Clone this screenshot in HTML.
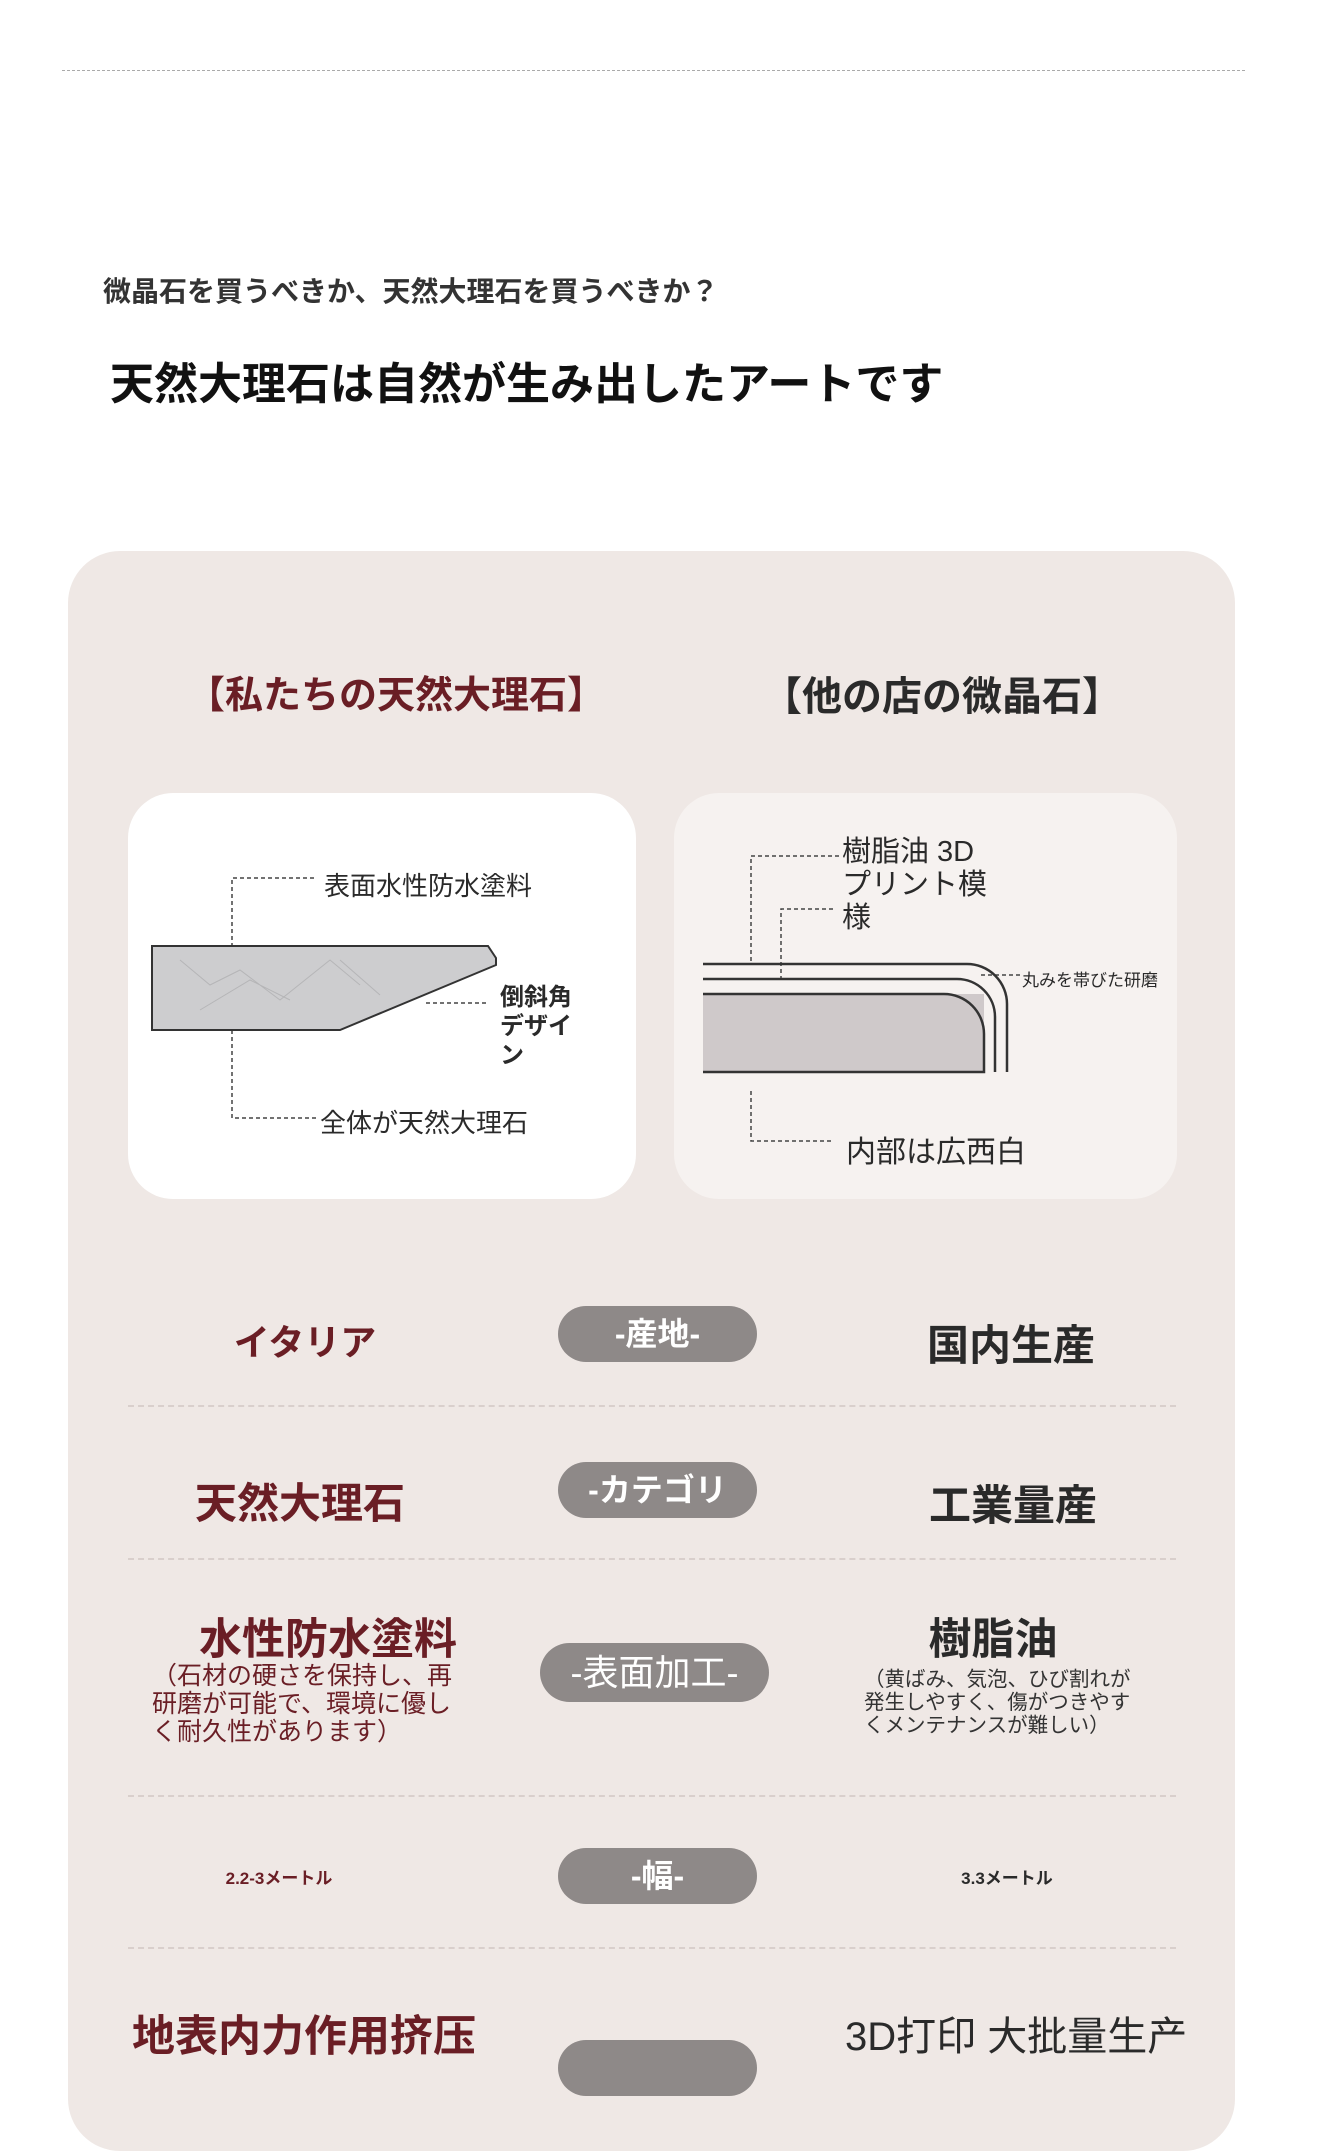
<!DOCTYPE html>
<html><head><meta charset="utf-8"><style>
*{margin:0;padding:0;box-sizing:border-box}
body{width:1322px;height:2048px;overflow:hidden;background:#fff;font-family:"Liberation Sans","Noto Sans CJK JP",sans-serif;position:relative}
.a{position:absolute;white-space:nowrap}
.red{color:#6a1e25}
.dk{color:#2a2a2a}
.pill{position:absolute;background:#8e8988;border-radius:30px;color:#fff;font-size:32px;text-align:center;font-weight:bold}
.hr{position:absolute;left:128px;width:1048px;border-top:2px dashed #d9cfcc}
.c{text-align:center;transform:translateX(-50%)}
</style></head><body>
<div class="a" style="left:62px;top:70px;width:1183px;border-top:1px dashed #aaa"></div>
<div class="a dk" style="left:103px;top:270px;font-size:28px;font-weight:bold;color:#333">微晶石を買うべきか、天然大理石を買うべきか？</div>
<div class="a" style="left:110px;top:348px;font-size:44px;font-weight:bold;color:#111">天然大理石は自然が生み出したアートです</div>

<div class="a" style="left:68px;top:551px;width:1167px;height:1600px;background:#efe8e5;border-radius:52px"></div>
<div class="a red c" style="left:396px;top:664px;font-size:38px;font-weight:bold">【私たちの天然大理石】</div>
<div class="a dk c" style="left:942px;top:664px;font-size:40px;font-weight:bold">【他の店の微晶石】</div>

<div class="a" style="left:128px;top:793px;width:508px;height:406px;background:#fff;border-radius:45px"></div>
<div class="a" style="left:674px;top:793px;width:503px;height:406px;background:#f6f2f0;border-radius:45px"></div>

<svg class="a" style="left:0;top:0" width="1322" height="1300">
<g fill="none" stroke="#444" stroke-width="1.5" stroke-dasharray="4,3">
<path d="M314 878H232V946M232 1030V1118H318M426 1003H488"/>
<path d="M839 856H751V964M833 909H781V979M981 975H1020M751 1091V1141H833"/>
</g>
<polygon points="152,946 488,946 496,958 496,965 340,1030 152,1030" fill="#cdcdcf" stroke="#333" stroke-width="2"/>
<path d="M180 960l30 25 30-15 40 30 50-40 30 25M200 1010l50-30 40 20M340 960l40 35" stroke="#b5b5b7" fill="none"/>
<rect x="703" y="994" width="281" height="78" fill="#cfc9ca"/>
<g fill="none" stroke="#333" stroke-width="2.5">
<path d="M703 964H967a40 40 0 0 1 40 40V1072"/>
<path d="M703 979H957a38 38 0 0 1 38 38V1072"/>
<path d="M703 994H944a40 40 0 0 1 40 40V1072H703"/>
</g>
</svg>
<div class="a dk" style="left:324px;top:866px;font-size:26px">表面水性防水塗料</div>
<div class="a dk" style="left:320px;top:1103px;font-size:26px">全体が天然大理石</div>
<div class="a dk" style="left:500px;top:983px;font-size:24px;font-weight:bold;line-height:29px">倒斜角<br>デザイ<br>ン</div>
<div class="a dk" style="left:842px;top:836px;font-size:29px;line-height:33px">樹脂油 3D<br>プリント模<br>様</div>
<div class="a dk" style="left:1022px;top:966px;font-size:17px">丸みを帯びた研磨</div>
<div class="a dk" style="left:846px;top:1127px;font-size:30px">内部は広西白</div>

<div class="a red c" style="left:305px;top:1314px;font-size:36px;font-weight:bold">イタリア</div>
<div class="pill" style="left:558px;top:1306px;width:199px;height:56px;line-height:56px">-産地-</div>
<div class="a dk c" style="left:1011px;top:1312px;font-size:42px;font-weight:bold">国内生産</div>
<div class="hr" style="top:1405px"></div>

<div class="a red c" style="left:300px;top:1470px;font-size:42px;font-weight:bold">天然大理石</div>
<div class="pill" style="left:558px;top:1462px;width:199px;height:56px;line-height:56px">-カテゴリ</div>
<div class="a dk c" style="left:1013px;top:1472px;font-size:42px;font-weight:bold">工業量産</div>
<div class="hr" style="top:1558px"></div>

<div class="a red c" style="left:328px;top:1617px;font-size:43px;line-height:46px;font-weight:bold">水性防水塗料</div>
<div class="a red" style="left:152px;top:1662px;font-size:25px;line-height:28px">（石材の硬さを保持し、再<br>研磨が可能で、環境に優し<br>く耐久性があります）</div>
<div class="pill" style="left:540px;top:1643px;width:229px;height:59px;line-height:59px;font-weight:normal;font-size:36px">-表面加工-</div>
<div class="a dk c" style="left:993px;top:1617px;font-size:43px;line-height:46px;font-weight:bold">樹脂油</div>
<div class="a" style="left:864px;top:1668px;font-size:20.5px;line-height:23px;color:#333">（黄ばみ、気泡、ひび割れが<br>発生しやすく、傷がつきやす<br>くメンテナンスが難しい）</div>
<div class="hr" style="top:1795px"></div>

<div class="a red c" style="left:279px;top:1864px;font-size:17px;font-weight:bold">2.2-3メートル</div>
<div class="pill" style="left:558px;top:1848px;width:199px;height:56px;line-height:56px">-幅-</div>
<div class="a dk c" style="left:1007px;top:1864px;font-size:17px;font-weight:bold">3.3メートル</div>
<div class="hr" style="top:1947px"></div>

<div class="a red" style="left:132px;top:2002px;font-size:43px;font-weight:bold">地表内力作用挤压</div>
<div class="pill" style="left:558px;top:2040px;width:199px;height:56px"></div>
<div class="a dk" style="left:845px;top:2004px;font-size:40px">3D打印 大批量生产</div>
</body></html>
